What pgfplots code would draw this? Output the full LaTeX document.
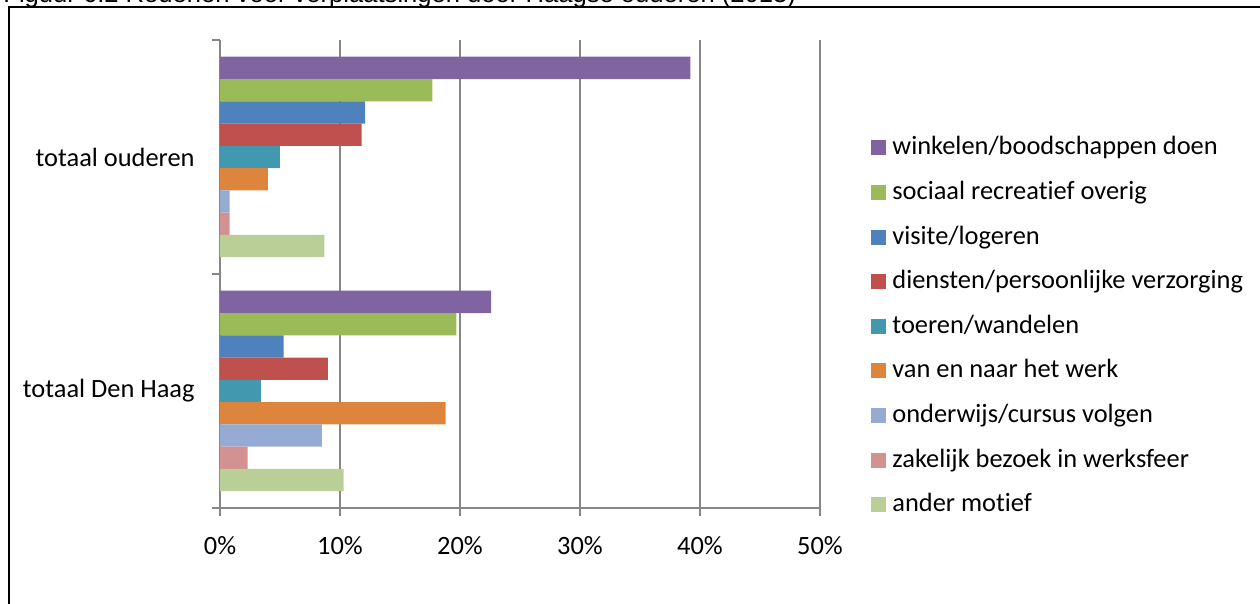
\documentclass[border=0pt]{standalone}
\usepackage{fontspec}
\setmainfont{Carlito}[Ligatures=NoCommon]
\newfontfamily\arial{Liberation Sans}
\usepackage{pgfplots}
\pgfplotsset{compat=1.18}
\definecolor{axisgray}{RGB}{134,134,134}
\definecolor{cwink}{RGB}{128,100,162}
\definecolor{csoc}{RGB}{155,187,89}
\definecolor{cvis}{RGB}{79,129,189}
\definecolor{cdie}{RGB}{192,80,77}
\definecolor{ctoe}{RGB}{66,152,175}
\definecolor{cwerk}{RGB}{221,132,61}
\definecolor{cond}{RGB}{149,171,211}
\definecolor{czak}{RGB}{211,146,145}
\definecolor{cand}{RGB}{185,207,151}

\begin{document}
\begin{tikzpicture}
\useasboundingbox (0,0) rectangle (630pt,302pt);
\clip (0,0) rectangle (630pt,302pt);
\draw[line width=0.9pt] (4.5pt,-10pt) rectangle (640pt,298.5pt);
\node[anchor=base west, inner sep=0pt, font=\arial\fontsize{12.8}{14}\selectfont]
  at (1.5pt,300.5pt) {Figuur 6.2 Redenen voor verplaatsingen door Haagse ouderen (2013)};
\begin{axis}[
    at={(110pt,48pt)}, anchor=south west,
    scale only axis, width=300pt, height=234pt,
    xbar, bar width=0.0952,
    xmin=0, xmax=50, ymin=-0.5, ymax=1.5,
    enlargelimits=false,
    axis x line*=bottom, axis y line*=left,
    axis line style={draw=axisgray, line width=1pt, -},
    xtick={0,10,...,50},
    xticklabel={\pgfmathprintnumber{\tick}\%},
    ytick={-0.5,0.5,1.5}, yticklabels={,,},
    extra y ticks={0,1},
    extra y tick labels={totaal Den Haag, totaal ouderen},
    extra y tick style={major tick length=0pt},
    tick align=outside, major tick length=4pt,
    tick style={draw=axisgray, line width=1pt},
    xmajorgrids,
    grid style={draw=axisgray, line width=1pt},
    tick label style={font=\fontsize{13.2}{15}\selectfont},
    xticklabel style={inner sep=0pt, yshift=-10pt},
    yticklabel style={inner sep=0pt, xshift=-12.5pt},
    /pgf/number format/assume math mode=true,
    legend image code/.code={\fill[#1] (0pt,-3.75pt) rectangle (7.5pt,3.75pt);},
    legend style={at={(1.085,0.80)}, anchor=north west, draw=none, fill=none,
        font=\fontsize{13.2}{15}\selectfont, inner sep=0pt, row sep=8.3pt,
        nodes={inner xsep=3pt, inner ysep=0pt, text height=10.5pt, text depth=3.5pt},
        /tikz/every even column/.append style={column sep=0pt}},
    legend cell align=left,
]
\addplot[fill=cwink, draw=none, bar shift=0.3808] coordinates {(39.2,1) (22.6,0)};
\addplot[fill=csoc,  draw=none, bar shift=0.2856] coordinates {(17.7,1) (19.7,0)};
\addplot[fill=cvis,  draw=none, bar shift=0.1904] coordinates {(12.1,1) (5.3,0)};
\addplot[fill=cdie,  draw=none, bar shift=0.0952] coordinates {(11.8,1) (9.0,0)};
\addplot[fill=ctoe,  draw=none, bar shift=0]      coordinates {(5.0,1) (3.4,0)};
\addplot[fill=cwerk, draw=none, bar shift=-0.0952] coordinates {(4.0,1) (18.8,0)};
\addplot[fill=cond,  draw=none, bar shift=-0.1904] coordinates {(0.8,1) (8.5,0)};
\addplot[fill=czak,  draw=none, bar shift=-0.2856] coordinates {(0.8,1) (2.3,0)};
\addplot[fill=cand,  draw=none, bar shift=-0.3808] coordinates {(8.7,1) (10.3,0)};
\legend{winkelen/boodschappen doen, sociaal recreatief overig, visite/logeren,
  diensten/persoonlijke verzorging, toeren/wandelen, van en naar het werk,
  onderwijs/cursus volgen, zakelijk bezoek in werksfeer, ander motief}
\end{axis}
\end{tikzpicture}
\end{document}
